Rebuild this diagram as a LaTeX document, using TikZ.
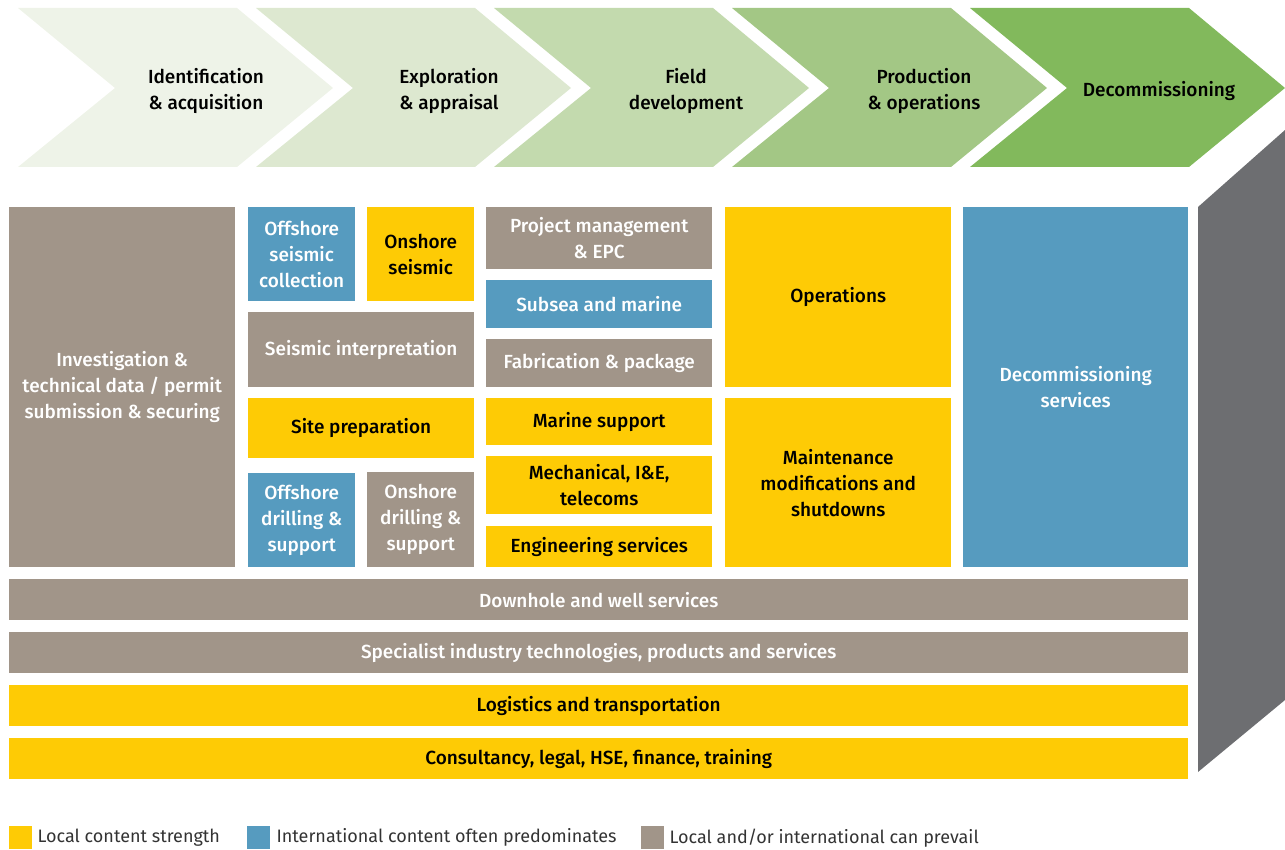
\documentclass[tikz,border=0pt]{standalone}
\usepackage{fontspec}
\setmainfont{Fira Sans}[BoldFont={Fira Sans Medium}]
\usepackage{xcolor}
\usepackage{tikz}
\usetikzlibrary{positioning}

\definecolor{cgray}{HTML}{A19589}
\definecolor{cblue}{HTML}{569BBF}
\definecolor{cyellow}{HTML}{FECB05}
\definecolor{cdark}{HTML}{6D6E71}
\definecolor{chA}{HTML}{EEF3E8}
\definecolor{chB}{HTML}{DDE8D0}
\definecolor{chC}{HTML}{C3DAAE}
\definecolor{chD}{HTML}{A3C785}
\definecolor{chE}{HTML}{82B95C}

\tikzset{
  blk/.style={anchor=north west, inner sep=0pt, align=center,
    font=\fontsize{19}{26}\selectfont\bfseries},
  gbox/.style={blk, fill=cgray, text=white},
  bbox/.style={blk, fill=cblue, text=white},
  ybox/.style={blk, fill=cyellow, text=black},
  stage/.style={align=center, text=black,
    font=\fontsize{19}{26}\selectfont\bfseries},
  key/.style={anchor=north west, inner sep=0pt, minimum width=23, minimum height=23},
  keytext/.style={anchor=west, inner sep=0pt, text=black!80,
    font=\fontsize{18}{22}\selectfont}
}

\begin{document}
\begin{tikzpicture}[x=1pt,y=-1pt]
    \useasboundingbox (0,0) rectangle (1285,850);

    % value chain stages
    \foreach \i/\c in {0/chA,1/chB,2/chC,3/chD,4/chE} {
        \fill[\c] ({18+238*\i},8) -- ({237+238*\i},8) -- ({333+238*\i},88)
            -- ({237+238*\i},167) -- ({18+238*\i},167) -- ({115+238*\i},88) -- cycle;
    }
    \node[stage] (s1) at (206,91) {Identification\\\& acquisition};
    \node[stage] (s2) at (449,91) {Exploration\\\& appraisal};
    \node[stage] (s3) at (686,91) {Field\\development};
    \node[stage] (s4) at (924,91) {Production\\\& operations};
    \node[stage] (s5) at (1159,91) {Decommissioning};

    % side panel
    \fill[cdark] (1198,207) -- (1285,130) -- (1285,700) -- (1198,772) -- cycle;

    % first column
    \node[gbox, minimum width=226, minimum height=360] (invest) at (9,207)
        {Investigation \&\\technical data / permit\\submission \& securing};

    % second column
    \node[bbox, minimum width=107, minimum height=94] (offseis) at (248,207)
        {Offshore\\seismic\\collection};
    \node[ybox, minimum width=107, minimum height=94] (onseis) at (367,207)
        {Onshore\\seismic};
    \node[gbox, minimum width=226, minimum height=75] (interp) at (248,312)
        {Seismic interpretation};
    \node[ybox, minimum width=226, minimum height=60] (site) at (248,398)
        {Site preparation};
    \node[bbox, minimum width=107, minimum height=94] (offdrill) at (248,473)
        {Offshore\\drilling \&\\support};
    \node[gbox, minimum width=107, minimum height=95] (ondrill) at (367,472)
        {Onshore\\drilling \&\\support};

    % third column
    \node[gbox, minimum width=226, minimum height=62] (epc) at (486,207)
        {Project management\\\& EPC};
    \node[bbox, minimum width=226, minimum height=48] (subsea) at (486,280)
        {Subsea and marine};
    \node[gbox, minimum width=226, minimum height=48] (fab) at (486,339)
        {Fabrication \& package};
    \node[ybox, minimum width=226, minimum height=47] (marine) at (486,398)
        {Marine support};
    \node[ybox, minimum width=226, minimum height=58] (mech) at (486,456)
        {Mechanical, I\&E,\\telecoms};
    \node[ybox, minimum width=226, minimum height=41] (eng) at (486,526)
        {Engineering services};

    % fourth and fifth column
    \node[ybox, minimum width=226, minimum height=180] (ops) at (725,207)
        {Operations};
    \node[ybox, minimum width=226, minimum height=169] (maint) at (725,398)
        {Maintenance\\modifications and\\shutdowns};
    \node[bbox, minimum width=225, minimum height=360] (decom) at (963,207)
        {Decommissioning\\services};

    % cross-cutting bars
    \node[gbox, minimum width=1179, minimum height=41] (downhole) at (9,579)
        {Downhole and well services};
    \node[gbox, minimum width=1179, minimum height=41] (special) at (9,632)
        {Specialist industry technologies, products and services};
    \node[ybox, minimum width=1179, minimum height=41] (logist) at (9,685)
        {Logistics and transportation};
    \node[ybox, minimum width=1179, minimum height=41] (consult) at (9,738)
        {Consultancy, legal, HSE, finance, training};

    % legend
    \node[key, fill=cyellow] (k1) at (9,826) {};
    \node[keytext, right=5pt of k1] (t1) {Local content strength};
    \node[key, fill=cblue] (k2) at (247,826) {};
    \node[keytext, right=6pt of k2] (t2) {International content often predominates};
    \node[key, fill=cgray] (k3) at (641,826) {};
    \node[keytext, right=5pt of k3] (t3) {Local and/or international can prevail};
\end{tikzpicture}
\end{document}
